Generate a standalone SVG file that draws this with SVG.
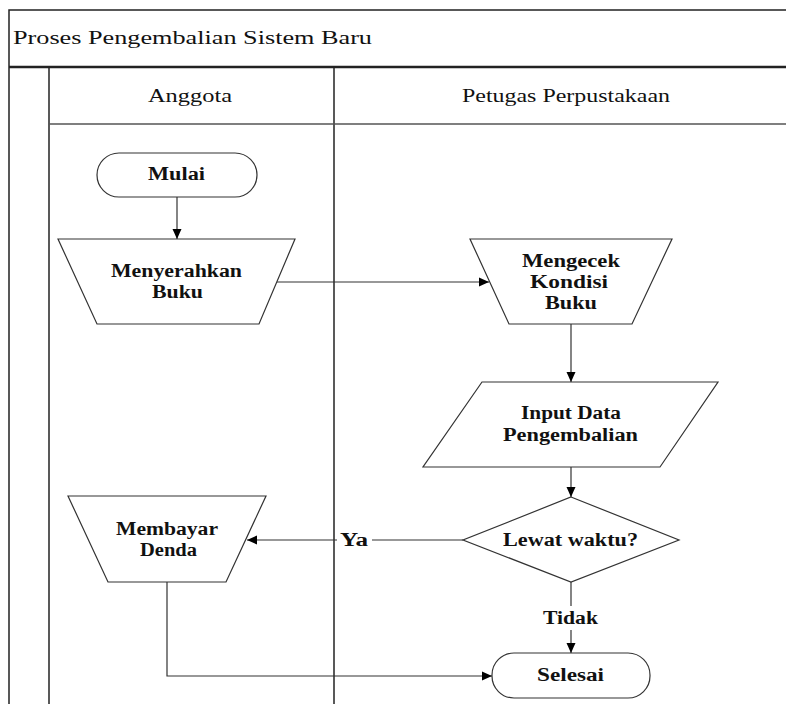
<svg xmlns="http://www.w3.org/2000/svg" width="786" height="704" viewBox="0 0 786 704">
<style>
.frame{stroke:#222;stroke-width:1.5;fill:none}
.shape{fill:#fff;stroke:#333;stroke-width:1.2}
.conn{fill:none;stroke:#333;stroke-width:1.2}
.t{font-family:"Liberation Serif","Times New Roman",serif;font-size:18px;fill:#111}
.b{font-weight:bold}
.h{font-size:18px}
</style>
<defs>
<marker id="arr" viewBox="0 0 10 10" refX="10" refY="5" markerWidth="10" markerHeight="10" markerUnits="userSpaceOnUse" orient="auto">
<path d="M0,0.5 L10,5 L0,9.5 Z" fill="#000"/>
</marker>
</defs>
<rect width="786" height="704" fill="#fff"/>
<g id="pool">
<path class="frame" d="M9,704 V10 H786"/>
<line x1="9" y1="67" x2="786" y2="67" stroke="#222" stroke-width="2.5"/>
<line x1="49" y1="67" x2="49" y2="704" stroke="#222" stroke-width="1.5"/>
<line x1="334" y1="67" x2="334" y2="704" stroke="#222" stroke-width="1.5"/>
<line x1="49" y1="124" x2="786" y2="124" stroke="#555" stroke-width="1.5"/>
<text class="t h" x="13" y="44" textLength="359" lengthAdjust="spacingAndGlyphs">Proses Pengembalian Sistem Baru</text>
<text class="t h" x="148" y="102" textLength="84" lengthAdjust="spacingAndGlyphs">Anggota</text>
<text class="t h" x="462" y="102" textLength="208" lengthAdjust="spacingAndGlyphs">Petugas Perpustakaan</text>
</g>
<g id="connectors">
<line class="conn" x1="177" y1="196" x2="177" y2="239" marker-end="url(#arr)"/>
<line class="conn" x1="276" y1="282" x2="489" y2="282" marker-end="url(#arr)"/>
<line class="conn" x1="571" y1="324" x2="571" y2="382" marker-end="url(#arr)"/>
<line class="conn" x1="571" y1="467" x2="571" y2="497" marker-end="url(#arr)"/>
<line class="conn" x1="463" y1="540" x2="372" y2="540"/>
<line class="conn" x1="337" y1="540" x2="247" y2="540" marker-end="url(#arr)"/>
<text class="t b" x="340" y="546" textLength="28" lengthAdjust="spacingAndGlyphs">Ya</text>
<line class="conn" x1="571" y1="582" x2="571" y2="606"/>
<text class="t b" x="543" y="624" textLength="55" lengthAdjust="spacingAndGlyphs">Tidak</text>
<line class="conn" x1="571" y1="630" x2="571" y2="653" marker-end="url(#arr)"/>
<polyline class="conn" points="167,582 167,676 492,676" marker-end="url(#arr)"/>
</g>
<g id="mulai">
<rect class="shape" x="97" y="153" width="160" height="44" rx="22" ry="22"/>
<text class="t b" x="148" y="180" textLength="57" lengthAdjust="spacingAndGlyphs">Mulai</text>
</g>
<g id="menyerahkan">
<polygon class="shape" points="58,239 295,239 259,324 97,324"/>
<text class="t b" x="111" y="277" textLength="131" lengthAdjust="spacingAndGlyphs">Menyerahkan</text>
<text class="t b" x="152" y="298" textLength="51" lengthAdjust="spacingAndGlyphs">Buku</text>
</g>
<g id="mengecek">
<polygon class="shape" points="470,239 672,239 632,324 509,324"/>
<text class="t b" x="522" y="267" textLength="98" lengthAdjust="spacingAndGlyphs">Mengecek</text>
<text class="t b" x="530" y="288" textLength="78" lengthAdjust="spacingAndGlyphs">Kondisi</text>
<text class="t b" x="545" y="309" textLength="52" lengthAdjust="spacingAndGlyphs">Buku</text>
</g>
<g id="input">
<polygon class="shape" points="482,382 718,382 660,467 423,467"/>
<text class="t b" x="521" y="419" textLength="100" lengthAdjust="spacingAndGlyphs">Input Data</text>
<text class="t b" x="503" y="441" textLength="135" lengthAdjust="spacingAndGlyphs">Pengembalian</text>
</g>
<g id="lewat">
<polygon class="shape" points="571,497 679,540 571,582 463,540"/>
<text class="t b" x="503" y="546" textLength="135" lengthAdjust="spacingAndGlyphs">Lewat waktu?</text>
</g>
<g id="membayar">
<polygon class="shape" points="68,496 266,496 226,582 108,582"/>
<text class="t b" x="116" y="535" textLength="102" lengthAdjust="spacingAndGlyphs">Membayar</text>
<text class="t b" x="140" y="556" textLength="57" lengthAdjust="spacingAndGlyphs">Denda</text>
</g>
<g id="selesai">
<rect class="shape" x="492" y="653" width="158" height="45" rx="22" ry="22"/>
<text class="t b" x="537" y="681" textLength="67" lengthAdjust="spacingAndGlyphs">Selesai</text>
</g>
</svg>
